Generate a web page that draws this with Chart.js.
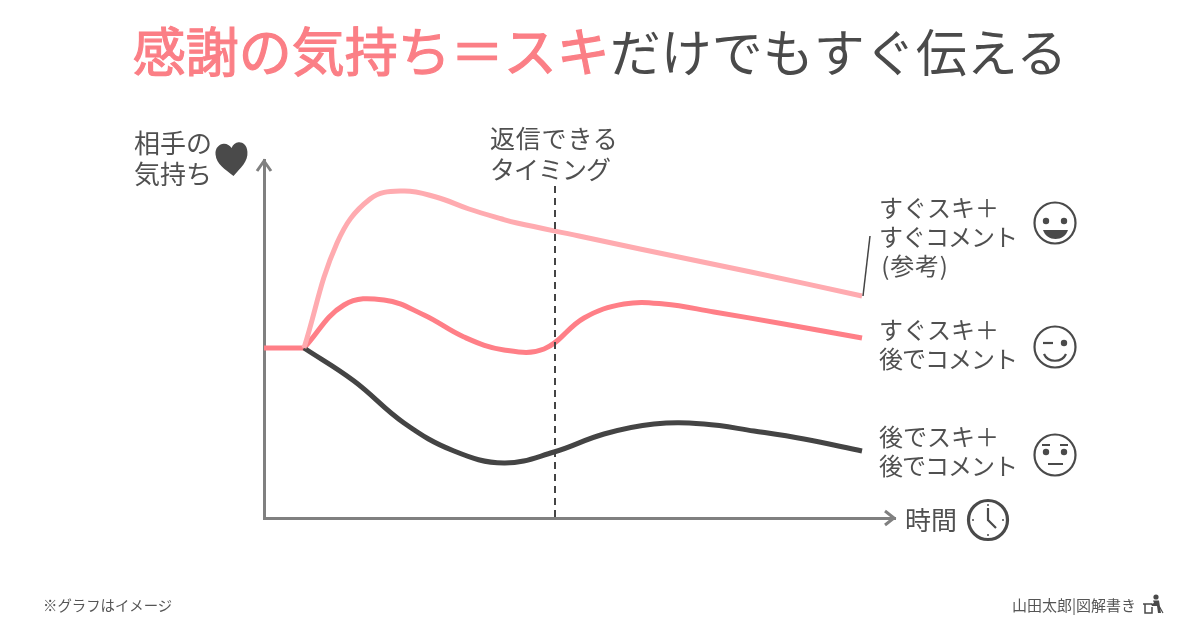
<!DOCTYPE html>
<html lang="ja">
<head>
<meta charset="UTF-8">
<title>感謝の気持ち＝スキだけでもすぐ伝える</title>
<script src="https://cdn.jsdelivr.net/npm/chart.js@4"></script>
<style>
  html, body { margin: 0; padding: 0; background: #fff; }
  #stage { position: relative; width: 1200px; height: 628px; overflow: hidden;
           font-family: "Noto Sans CJK JP", "Noto Sans", sans-serif; color: #505050; }
  canvas { position: absolute; left: 0; top: 0; }
  .t { position: absolute; white-space: nowrap; font-size: 24px; line-height: 29px; }
  .big { font-size: 26px; line-height: 31px; }
  .tight { letter-spacing: -1px; }
  .wide { letter-spacing: 0.8px; }
  #title { left: 0; width: 1200px; text-align: center; top: 14px; font-size: 51px; line-height: 70px; color: #4a4a4a; }
  #title b { color: #fb7f86; font-size: 53px; font-weight: 400; -webkit-text-stroke: 1.2px #fb7f86; }
  .small { font-size: 14.4px; line-height: 20px; color: #555; }
  svg { position: absolute; overflow: visible; }
  svg .l { fill: none; stroke: #4a4a4a; stroke-width: 2.2; }
  svg .f { fill: #4a4a4a; }
</style>
</head>
<body>
<div id="stage">
  <canvas id="chart" width="1200" height="628"></canvas>
  <div class="t" id="title"></div>
  <div class="t big" id="yLabel" style="left:134px;top:126px"></div>
  <div class="t big" id="timingLabel" style="left:490px;top:122px;font-size:25px"></div>
  <div class="t" id="lab1" style="left:879px;top:192px"></div>
  <div class="t" id="lab2" style="left:879px;top:314px"></div>
  <div class="t" id="lab3" style="left:879px;top:421px"></div>
  <div class="t big" id="xLabel" style="left:905px;top:503px"></div>
  <div class="t small" id="note" style="left:43px;top:595px"></div>
  <div class="t small" id="credit" style="left:1012px;top:595px;font-size:15px"></div>

  <!-- heart -->
  <svg style="left:214px;top:141px;transform:rotate(-5deg)" width="36" height="36" viewBox="0 0 36 36">
    <path class="f" d="M18 35 C10 27 2 22 2 12 C2 5 7 2 11 2 C14 2 17 4 18.500 7 C20 4 23 2 26 2 C30 2 34 5 34 12 C34 22 26 27 18 35Z"/>
  </svg>
  <!-- smile -->
  <svg style="left:1033px;top:201px" width="44" height="44" viewBox="0 0 44 44">
    <circle class="l" cx="22" cy="22" r="20.500"/>
    <circle class="f" cx="13" cy="20" r="3.200"/><circle class="f" cx="31" cy="20" r="3.200"/>
    <path class="f" d="M10 29 H35 C33 35 28 38 22.500 38 C17 38 12 35 10 29Z"/>
  </svg>
  <!-- wink -->
  <svg style="left:1033px;top:325px" width="44" height="44" viewBox="0 0 44 44">
    <circle class="l" cx="22" cy="22" r="20.500"/>
    <path class="l" d="M10 18 H20"/><circle class="f" cx="31" cy="18" r="3.200"/>
    <path class="l" d="M11 29 C15 38 29 38 33 29"/>
  </svg>
  <!-- neutral -->
  <svg style="left:1033px;top:433px" width="44" height="44" viewBox="0 0 44 44">
    <circle class="l" cx="22" cy="22" r="20.500"/>
    <path class="l" d="M9 12 H17 M27 12 H35 M15 31 H30"/>
    <circle class="f" cx="13" cy="19" r="3.200"/><circle class="f" cx="31" cy="19" r="3.200"/>
  </svg>
  <!-- clock -->
  <svg style="left:966px;top:498px" width="44" height="44" viewBox="0 0 44 44">
    <circle class="l" style="stroke-width:3.200" cx="22" cy="22" r="19.500"/>
    <path class="l" d="M22 10 V22 L30 30"/>
    <circle class="f" cx="22" cy="7" r="1"/><circle class="f" cx="22" cy="37" r="1"/>
    <circle class="f" cx="7" cy="22" r="1"/><circle class="f" cx="37" cy="22" r="1"/>
  </svg>
  <!-- desk icon -->
  <svg style="left:1142px;top:594px" width="24" height="24" viewBox="0 0 24 24">
    <circle class="f" cx="14" cy="3" r="2.600"/>
    <path class="f" d="M11 6.500 H17 L19 19 H16 L15 12 H10 L9 10 L12 9Z"/>
    <path class="l" style="stroke-width:1.500" d="M1 10 H10 M3 10 V19 H10 V13"/>
    <path class="l" style="stroke-width:1.200" d="M17 12 L21 19"/>
  </svg>
</div>

<script>
  // values, x = elapsed time, y = feeling (arbitrary units)
  const baseX = [0, 40];
  const baseY = [170, 170];

  const quickBothX = [40, 73, 106, 139, 172, 205, 238, 253, 315, 376, 487, 598];
  const quickBothY = [170, 275, 319, 327, 321, 309, 299, 295, 282, 269, 246, 222];

  const quickLikeX = [40, 80, 120, 160, 200, 240, 280, 320, 360, 400, 450, 520, 598];
  const quickLikeY = [170, 213, 218, 203, 181, 168, 169, 200, 214, 214, 206, 194, 180];

  const lateBothX = [40, 90, 140, 190, 240, 290, 340, 390, 440, 490, 540, 598];
  const lateBothY = [170, 137, 95, 67, 55, 66, 84, 94, 94, 87, 79, 67];

  const timingX = [291, 291];
  const timingY = [332, 0];
  const leaderX = [599, 606];
  const leaderY = [222, 282];

  const titlePink = '感謝の気持ち＝スキ';
  const titleRest = 'だけでもすぐ伝える';
  const yAxisLines = ['相手の', '気持ち'];
  const timingLines = ['<span class="wide">返信できる</span>', '<span class="tight">タイミング</span>'];
  const label1 = ['すぐスキ＋', '<span class="tight">すぐコメント</span>', '<span class="wide">&#8202;(参考)</span>'];
  const label2 = ['すぐスキ＋', '<span class="tight">後でコメント</span>'];
  const label3 = ['後でスキ＋', '<span class="tight">後でコメント</span>'];
  const xAxisLabel = '時間';
  const noteText = '※グラフはイメージ';
  const creditText = '山田太郎|図解書き';

  const pairs = (xs, ys) => xs.map((x, i) => ({ x: x, y: ys[i] }));
  const setLines = (id, lines) => { document.getElementById(id).innerHTML = lines.join('<br>'); };

  document.getElementById('title').innerHTML = '<b>' + titlePink + '</b>' + titleRest;
  setLines('yLabel', yAxisLines);
  setLines('timingLabel', timingLines);
  setLines('lab1', label1);
  setLines('lab2', label2);
  setLines('lab3', label3);
  setLines('xLabel', [xAxisLabel]);
  setLines('note', [noteText]);
  setLines('credit', [creditText]);

  const curve = (label, xs, ys, color) => ({
    label: label,
    data: pairs(xs, ys),
    borderColor: color,
    borderWidth: 5,
    borderCapStyle: 'butt',
    borderJoinStyle: 'round',
    tension: 0.4,
    pointRadius: 0,
    clip: false
  });

  // open arrowheads on the ends of both axes
  const axisArrows = {
    id: 'axisArrows',
    afterDraw(chart) {
      const { ctx, chartArea: a } = chart;
      ctx.save();
      ctx.strokeStyle = '#808080';
      ctx.lineWidth = 3;
      ctx.beginPath();
      ctx.moveTo(a.left - 7, a.top + 11);
      ctx.lineTo(a.left, a.top + 1);
      ctx.lineTo(a.left + 7, a.top + 11);
      ctx.moveTo(a.right - 10, a.bottom - 7);
      ctx.lineTo(a.right - 1, a.bottom);
      ctx.lineTo(a.right - 10, a.bottom + 7);
      ctx.stroke();
      ctx.restore();
    }
  };

  new Chart(document.getElementById('chart'), {
    type: 'line',
    data: {
      datasets: [
        { label: 'タイミング', data: pairs(timingX, timingY), borderColor: '#444', borderWidth: 2, borderDash: [7, 5], pointRadius: 0, clip: false },
        { label: '引き出し線', data: pairs(leaderX, leaderY), borderColor: '#444', borderWidth: 1.5, pointRadius: 0, clip: false },
        curve('すぐスキ＋すぐコメント', quickBothX, quickBothY, '#ffabb0'),
        curve('後でスキ＋後でコメント', lateBothX, lateBothY, '#444444'),
        curve('すぐスキ＋後でコメント', quickLikeX, quickLikeY, '#ff7f87'),
        curve('初期', baseX, baseY, '#ff7f87')
      ]
    },
    options: {
      responsive: false,
      animation: false,
      layout: { padding: { left: 264, right: 305, top: 160, bottom: 110 } },
      plugins: { legend: { display: false }, tooltip: { enabled: false }, title: { display: false } },
      scales: {
        x: {
          type: 'linear', min: 0, max: 631,
          grid: { display: false, drawTicks: false },
          border: { color: '#808080', width: 3 },
          ticks: { display: false }
        },
        y: {
          type: 'linear', min: 0, max: 358,
          grid: { display: false, drawTicks: false },
          border: { color: '#808080', width: 3 },
          ticks: { display: false }
        }
      }
    },
    plugins: [axisArrows]
  });
</script>
</body>
</html>
